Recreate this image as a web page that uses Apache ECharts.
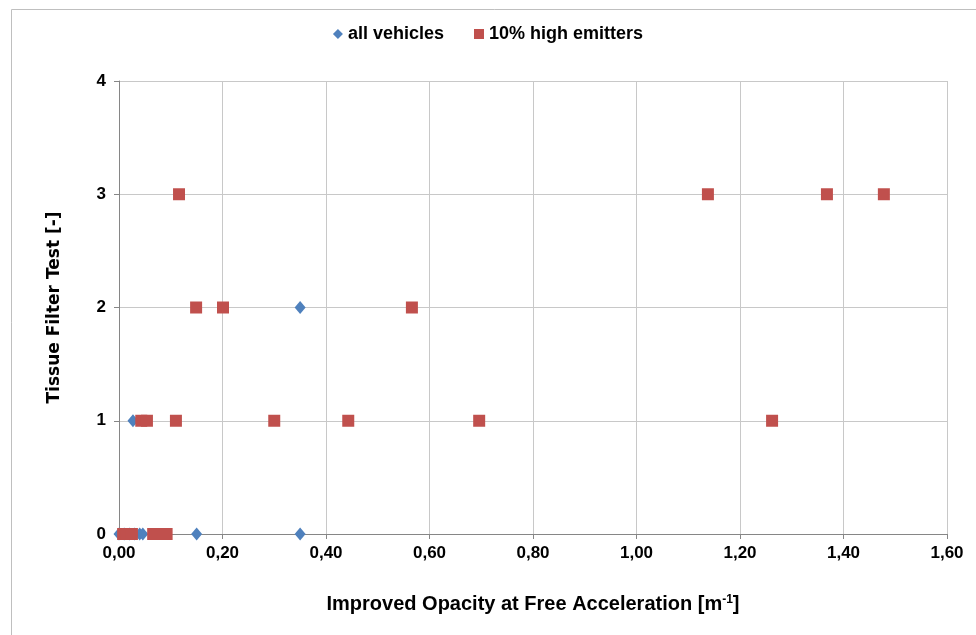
<!DOCTYPE html>
<html><head><meta charset="utf-8">
<script src="https://cdn.jsdelivr.net/npm/echarts@6/dist/echarts.min.js"></script>
<style>html,body{margin:0;padding:0;background:#fff}#c{width:976px;height:635px}</style>
</head><body><div id="c"></div>
<script>
const seriesNames = ['all vehicles', '10% high emitters'];
const allVehiclesX = [0.000, 0.010, 0.020, 0.030, 0.040, 0.046, 0.150, 0.350, 0.027, 0.350];
const allVehiclesY = [0, 0, 0, 0, 0, 0, 0, 0, 1, 2];
const highEmittersX = [0.008, 0.015, 0.025, 0.066, 0.085, 0.092,
  0.043, 0.054, 0.110, 0.300, 0.443, 0.696, 1.262,
  0.149, 0.201, 0.566,
  0.116, 1.138, 1.368, 1.478];
const highEmittersY = [0, 0, 0, 0, 0, 0,
  1, 1, 1, 1, 1, 1, 1,
  2, 2, 2,
  3, 3, 3, 3];
const xTitle = 'Improved Opacity at Free Acceleration [m';
const yTitle = 'Tissue Filter Test [-]';

const pairs = (xs, ys) => xs.map((x, i) => [x, ys[i]]);
const fontMain = '"Liberation Sans Narrow", "Liberation Sans", sans-serif';
const chart = echarts.init(document.getElementById('c'));
chart.setOption({
  animation: false,
  backgroundColor: '#fff',
  graphic: [{type: 'rect', shape: {x: 11.5, y: 9.5, width: 980, height: 640}, style: {fill: 'none', stroke: '#bfbfbf', lineWidth: 1}, silent: true}],
  legend: {
    top: 20, left: 'center', itemGap: 30, itemWidth: 10, itemHeight: 10,
    textStyle: {fontFamily: fontMain, fontWeight: 'bold', fontSize: 18, color: '#000'},
    data: [{name: seriesNames[0], icon: 'diamond'}, {name: seriesNames[1], icon: 'rect'}]
  },
  grid: {left: 119, right: 29, top: 81, bottom: 101},
  xAxis: {
    type: 'value', min: 0, max: 1.6, interval: 0.2,
    name: xTitle + '{sup|-1}]', nameLocation: 'middle', nameGap: 60,
    nameTextStyle: {fontFamily: fontMain, fontWeight: 'bold', fontSize: 20, color: '#000',
      rich: {sup: {fontFamily: fontMain, fontWeight: 'bold', fontSize: 12, verticalAlign: 'top', padding: [0, 0, 8, 0]}}},
    axisLine: {lineStyle: {color: '#868686'}},
    axisTick: {show: true, length: 5, lineStyle: {color: '#868686'}},
    axisLabel: {fontFamily: fontMain, fontWeight: 'bold', fontSize: 17, color: '#000', margin: 11,
      formatter: v => v.toFixed(2).replace('.', ',')},
    splitLine: {show: true, lineStyle: {color: '#c8c8c8'}}
  },
  yAxis: {
    type: 'value', min: 0, max: 4, interval: 1,
    name: yTitle, nameLocation: 'middle', nameGap: 56, nameRotate: 90,
    nameTextStyle: {fontFamily: '"DejaVu Sans", sans-serif', fontWeight: 'bold', fontSize: 17, color: '#000'},
    axisLine: {show: true, lineStyle: {color: '#868686'}},
    axisTick: {show: true, length: 5, lineStyle: {color: '#868686'}},
    axisLabel: {fontFamily: fontMain, fontWeight: 'bold', fontSize: 17, color: '#000', margin: 13},
    splitLine: {show: true, lineStyle: {color: '#c8c8c8'}}
  },
  series: [
    {name: seriesNames[0], type: 'scatter', symbol: 'diamond', symbolSize: [11, 13],
      itemStyle: {color: '#4F81BD', opacity: 1}, data: pairs(allVehiclesX, allVehiclesY), z: 2},
    {name: seriesNames[1], type: 'scatter', symbol: 'rect', symbolSize: 12,
      itemStyle: {color: '#C0504D', opacity: 1}, data: pairs(highEmittersX, highEmittersY), z: 3}
  ]
});
</script></body></html>
